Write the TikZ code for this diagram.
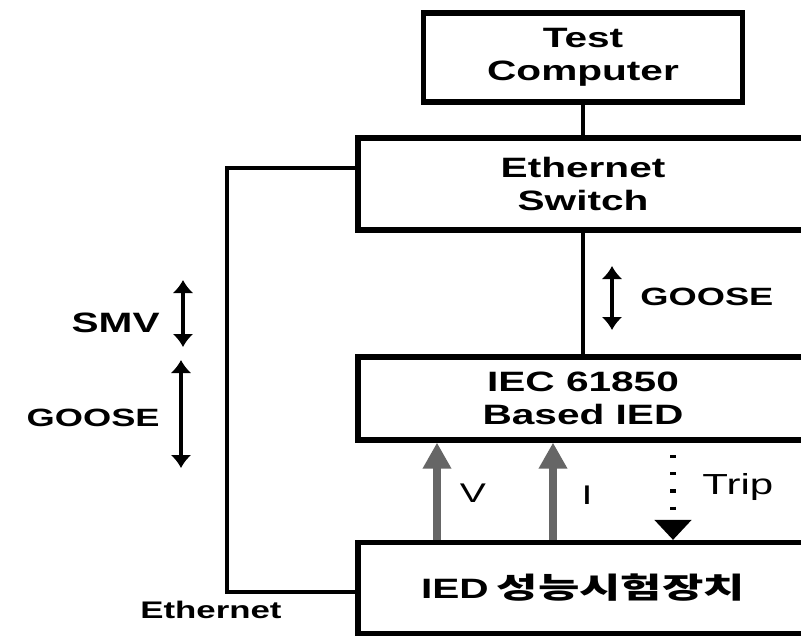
\documentclass[tikz,border=0pt]{standalone}
\usepackage{fontspec}
\setmainfont{Liberation Sans}[FakeStretch=1.45]
\newfontfamily\krfont{Noto Sans CJK KR}[FakeStretch=1.55]
\usetikzlibrary{arrows.meta}
\begin{document}
\begin{tikzpicture}[x=0.5pt,y=-0.5pt,
  box/.style={draw, line width=2.6pt, inner sep=0pt, align=center,
    font=\fontsize{14}{16.5}\selectfont\bfseries},
  conn/.style={line width=1.8pt},
  lbl/.style={inner sep=0pt, font=\fontsize{12.5}{14}\selectfont\bfseries},
  sig/.style={inner sep=0pt, font=\fontsize{13.5}{15}\selectfont},
  dbl/.style={line width=1.7pt, {Latex[length=6.5pt,width=10.5pt]}-{Latex[length=6.5pt,width=10.5pt]}},
  meas/.style={line width=4pt, black!60, -{Triangle[length=13pt,width=13.5pt]}},
  trip/.style={line width=2.6pt, dash pattern=on 1.6pt off 7pt, -{Triangle[length=10pt,width=18pt]}}
]
\useasboundingbox (0,0) rectangle (801,638);
\fill[white] (0,0) rectangle (801,638);
\clip (0,0) rectangle (801,638);

% boxes
\node[box, minimum width=159.5pt, minimum height=44.5pt] (tc) at (583,57.5) {Test\\Computer};
\node[box, minimum width=225pt, minimum height=46pt] (sw) at (583,184) {Ethernet\\Switch};
\node[box, minimum width=225pt, minimum height=41.5pt] (ied) at (583,398.5) {IEC 61850\\Based IED};
\node[box, minimum width=225pt, minimum height=45.5pt] (dev) at (583,588) {IED\hspace{4pt}{\krfont\bfseries\fontsize{14.5}{16}\selectfont 성능시험장치}};

% connectors
\draw[conn] (tc) -- (sw);
\draw[conn] (sw) -- (ied);
\coordinate (l1) at (227,168);
\coordinate (l2) at (227,592);
\draw[conn] (sw.west |- l1) -- (l1) -- (l2) -- (dev.west |- l2);

% GOOSE arrow (right)
\coordinate (g1) at (612,266);
\coordinate (g2) at (612,330);
\draw[dbl] (g1) -- (g2);
\node[lbl, anchor=west] (gooseR) at (640,297) {GOOSE};

% SMV / GOOSE arrows (left)
\coordinate (s1) at (183,280);
\coordinate (s2) at (183,347);
\draw[dbl] (s1) -- (s2);
\node[lbl, anchor=east, font=\fontsize{14}{16}\selectfont\bfseries] (smv) at (160,323) {SMV};
\coordinate (q1) at (181,360);
\coordinate (q2) at (181,468);
\draw[dbl] (q1) -- (q2);
\node[lbl, anchor=east] (gooseL) at (160,418) {GOOSE};

\node[lbl, font=\fontsize{12}{14}\selectfont\bfseries] (eth) at (211,610) {Ethernet};

% V, I, Trip
\coordinate (vx) at (437,0);
\coordinate (ix) at (553,0);
\coordinate (tx) at (673,0);
\coordinate (tstart) at (673,455);
\draw[meas] (dev.north -| vx) -- (ied.south -| vx);
\draw[meas] (dev.north -| ix) -- (ied.south -| ix);
\draw[trip] (tstart) -- (dev.north -| tx);
\node[sig] (vl) at (473,493) {V};
\node[sig] (il) at (587,495) {I};
\node[sig, anchor=west, font=\fontsize{14.5}{16}\selectfont] (tl) at (702,487) {Trip};
\end{tikzpicture}
\end{document}
